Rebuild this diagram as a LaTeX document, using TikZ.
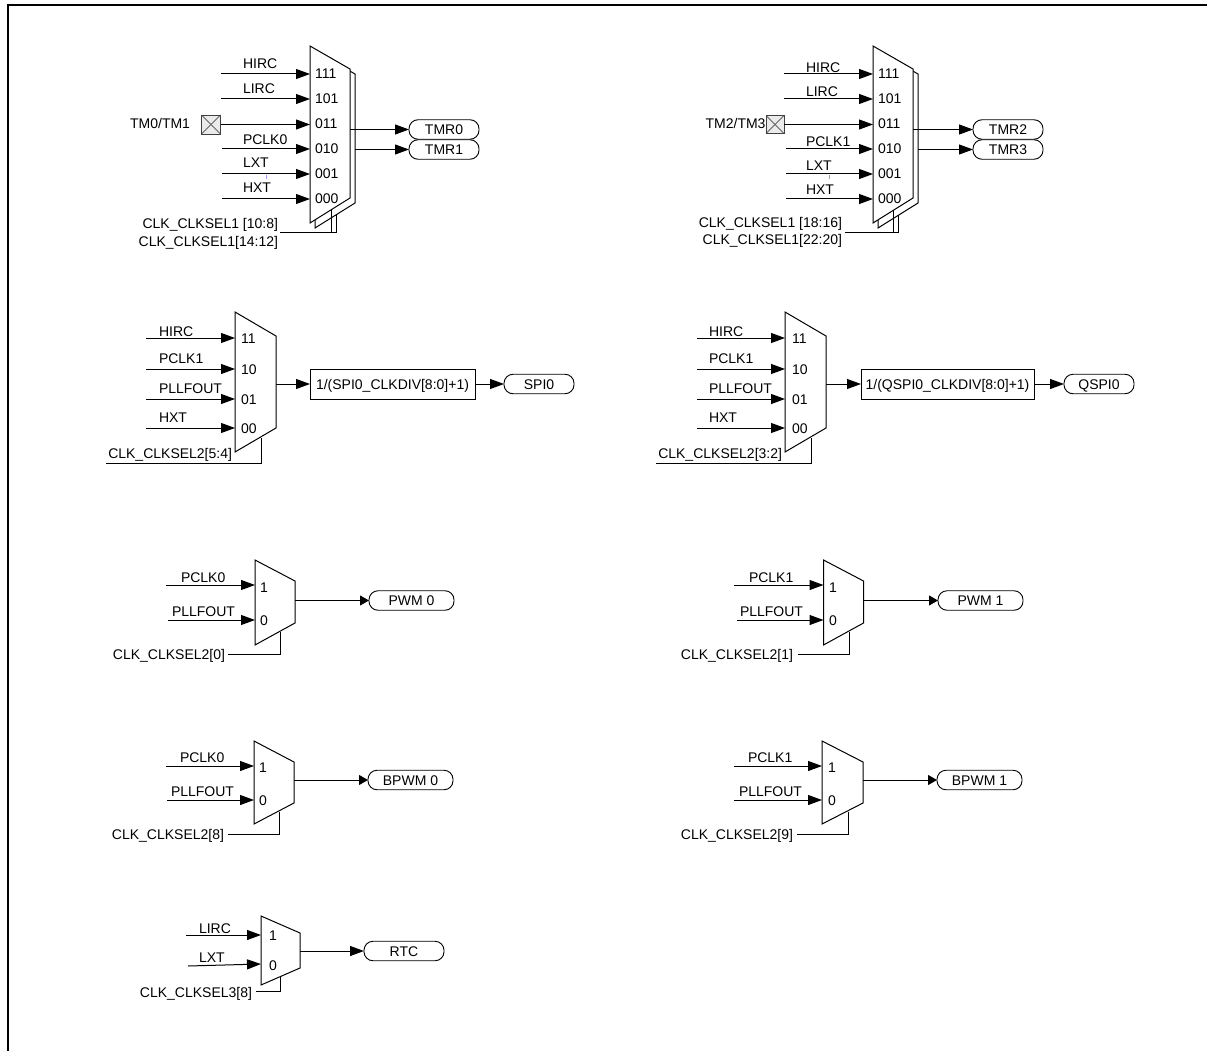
\documentclass[tikz,border=0pt]{standalone}
\usepackage{fontspec}
\setmainfont{Liberation Sans}
\usetikzlibrary{positioning, arrows.meta}

\begin{document}
\begin{tikzpicture}[
    x=1pt,
    y=-1pt,
    every node/.style={font=\fontsize{14}{15}\selectfont, inner sep=0pt, outer sep=0pt, text height=10pt, text depth=0pt},
    muxbody/.style={
        rectangle,
        minimum width=40pt
    },
    muxline/.style={
        line width=1pt,
        fill=white
    },
    pill/.style={
        rectangle,
        rounded corners=9pt,
        draw,
        line width=0.9pt,
        fill=white,
        minimum width=70pt,
        minimum height=19.5pt
    },
    divbox/.style={
        rectangle,
        draw,
        line width=0.9pt,
        minimum height=30pt
    },
    xbox/.style={
        rectangle,
        draw=black!75,
        line width=0.8pt,
        fill=black!8,
        minimum size=19pt,
        path picture={
            \draw[black!60] (path picture bounding box.north west) -- (path picture bounding box.south east);
            \draw[black!60] (path picture bounding box.south west) -- (path picture bounding box.north east);
        }
    },
    flecha/.style={
        -{Triangle[length=14pt, width=10pt]},
        line width=1pt
    },
    flechita/.style={
        -{Triangle[length=9pt, width=10pt]},
        line width=1pt
    },
    selline/.style={
        line width=0.9pt
    }
]
    \useasboundingbox (0,0) rectangle (1207,1051);
    \draw[line width=2pt] (8,1051) -- (8,5) -- (1207,5);

    % TM0/TM1
    \node[muxbody, minimum height=177pt] (mux0) at (330,134.5) {};
    \node[muxbody, minimum height=177pt] (back0) at (335,139.5) {};
    \draw[muxline] (back0.north west) -- ++(40,23) -- ++(0,129) -- (back0.south west) -- cycle;
    \draw[muxline] (mux0.north west) -- ++(40,23) -- ++(0,129) -- (mux0.south west) -- cycle;
    \node[xbox] (xtal0) at (211,124.5) {};
    \node[anchor=east] (tm0) at (190,124) {TM0/TM1};
    \node[anchor=west] (hirc0) at (243,64) {HIRC};
    \node[anchor=west] (lirc0) at (243,89) {LIRC};
    \node[anchor=west] (pclk0) at (243,140) {PCLK0};
    \node[anchor=west] (lxt0) at (243,163) {LXT};
    \node[anchor=west] (hxt0) at (243,188) {HXT};
    \node[anchor=west] (p0a) at (315,74) {111};
    \node[anchor=west] (p0b) at (315,99) {101};
    \node[anchor=west] (p0c) at (315,124) {011};
    \node[anchor=west] (p0d) at (315,149) {010};
    \node[anchor=west] (p0e) at (315,174) {001};
    \node[anchor=west] (p0f) at (315,199) {000};
    \node[pill, anchor=west] (tmr0) at (409,129.5) {TMR0};
    \node[pill, below=0.5pt of tmr0] (tmr1) {TMR1};
    \node[anchor=east] (sel0) at (278,224) {CLK\_CLKSEL1 [10:8]};
    \node[anchor=east] (sel1) at (278,242) {CLK\_CLKSEL1[14:12]};
    \coordinate (i0a) at (221,74);
    \coordinate (i0b) at (221,99);
    \coordinate (i0d) at (222,149);
    \coordinate (i0e) at (222,174);
    \coordinate (i0f) at (222,199);
    \coordinate (s0) at (280,232);

    \draw[flecha] (i0a) -- (i0a -| mux0.west);
    \draw[flecha] (i0b) -- (i0b -| mux0.west);
    \draw[flecha] (xtal0.east) -- (xtal0.east -| mux0.west);
    \draw[flecha] (i0d) -- (i0d -| mux0.west);
    \draw[flecha] (i0e) -- (i0e -| mux0.west);
    \draw[flecha] (i0f) -- (i0f -| mux0.west);
    \draw[flecha] (tmr0.west -| mux0.east) -- (tmr0.west);
    \draw[flecha] (tmr1.west -| back0.east) -- (tmr1.west);
    \draw[selline] (s0) -- (336,232) -- (336,215);
    \draw[selline] (s0) -- (331,232) -- (331,210.5);
    \draw[blue!40, line width=0.7pt] (266,175) -- (266,179);

    % TM2/TM3
    \node[muxbody, minimum height=177pt] (mux2) at (893,134.5) {};
    \node[muxbody, minimum height=177pt] (back2) at (898,139.5) {};
    \draw[muxline] (back2.north west) -- ++(40,23) -- ++(0,129) -- (back2.south west) -- cycle;
    \draw[muxline] (mux2.north west) -- ++(40,23) -- ++(0,129) -- (mux2.south west) -- cycle;
    \node[xbox, minimum size=18pt] (xtal2) at (775,124.5) {};
    \node[anchor=east] (tm2) at (765.5,124) {TM2/TM3};
    \node[anchor=west] (hirc2) at (806,68) {HIRC};
    \node[anchor=west] (lirc2) at (806,92) {LIRC};
    \node[anchor=west] (pclk2) at (806,142) {PCLK1};
    \node[anchor=west] (lxt2) at (806,166) {LXT};
    \node[anchor=west] (hxt2) at (806,190) {HXT};
    \node[anchor=west] (p2a) at (878,74) {111};
    \node[anchor=west] (p2b) at (878,99) {101};
    \node[anchor=west] (p2c) at (878,124) {011};
    \node[anchor=west] (p2d) at (878,149) {010};
    \node[anchor=west] (p2e) at (878,174) {001};
    \node[anchor=west] (p2f) at (878,199) {000};
    \node[pill, anchor=west] (tmr2) at (973,129.5) {TMR2};
    \node[pill, below=0.5pt of tmr2] (tmr3) {TMR3};
    \node[anchor=east] (sel2) at (842,223) {CLK\_CLKSEL1 [18:16]};
    \node[anchor=east] (sel3) at (842,239) {CLK\_CLKSEL1[22:20]};
    \coordinate (i2a) at (784,74);
    \coordinate (i2b) at (784,99);
    \coordinate (i2d) at (786,149);
    \coordinate (i2e) at (786,174);
    \coordinate (i2f) at (786,199);
    \coordinate (s2) at (845,232);

    \draw[flecha] (i2a) -- (i2a -| mux2.west);
    \draw[flecha] (i2b) -- (i2b -| mux2.west);
    \draw[flecha] (xtal2.east) -- (xtal2.east -| mux2.west);
    \draw[flecha] (i2d) -- (i2d -| mux2.west);
    \draw[flecha] (i2e) -- (i2e -| mux2.west);
    \draw[flecha] (i2f) -- (i2f -| mux2.west);
    \draw[flecha] (tmr2.west -| mux2.east) -- (tmr2.west);
    \draw[flecha] (tmr3.west -| back2.east) -- (tmr3.west);
    \draw[selline] (s2) -- (898,232) -- (898,215);
    \draw[selline] (s2) -- (893,232) -- (893,210.5);
    \draw[blue!40, line width=0.7pt] (829,175) -- (829,179);

    % SPI0
    \node[muxbody, minimum width=41pt, minimum height=140pt] (mux4) at (255.5,382) {};
    \draw[muxline] (mux4.north west) -- ++(41,24) -- ++(0,92) -- (mux4.south west) -- cycle;
    \node[anchor=west] (hirc4) at (159,331) {HIRC};
    \node[anchor=west] (pclk4) at (159,358) {PCLK1};
    \node[anchor=west] (pll4) at (159,388) {PLLFOUT};
    \node[anchor=west] (hxt4) at (159,417) {HXT};
    \node[anchor=west] (p4a) at (241,338) {11};
    \node[anchor=west] (p4b) at (241,369) {10};
    \node[anchor=west] (p4c) at (241,399) {01};
    \node[anchor=west] (p4d) at (241,428) {00};
    \node[divbox, minimum width=165pt, anchor=west] (div4) at (310,384) {1/(SPI0\_CLKDIV[8:0]+1)};
    \node[pill, right=29pt of div4] (spi0) {SPI0};
    \node[anchor=east] (sel4) at (232,453) {CLK\_CLKSEL2[5:4]};
    \coordinate (i4a) at (146,338);
    \coordinate (i4b) at (146,369);
    \coordinate (i4c) at (146,399);
    \coordinate (i4d) at (146,428);
    \coordinate (s4) at (106,463);

    \draw[flecha] (i4a) -- (i4a -| mux4.west);
    \draw[flecha] (i4b) -- (i4b -| mux4.west);
    \draw[flecha] (i4c) -- (i4c -| mux4.west);
    \draw[flecha] (i4d) -- (i4d -| mux4.west);
    \draw[flecha] (div4.west -| mux4.east) -- (div4.west);
    \draw[flecha] (div4) -- (spi0);
    \draw[selline] (s4) -- (261,463) -- (261,438);

    % QSPI0
    \node[muxbody, minimum width=41pt, minimum height=140pt] (mux5) at (805.5,382) {};
    \draw[muxline] (mux5.north west) -- ++(41,24) -- ++(0,92) -- (mux5.south west) -- cycle;
    \node[anchor=west] (hirc5) at (709,331) {HIRC};
    \node[anchor=west] (pclk5) at (709,358) {PCLK1};
    \node[anchor=west] (pll5) at (709,388) {PLLFOUT};
    \node[anchor=west] (hxt5) at (709,417) {HXT};
    \node[anchor=west] (p5a) at (792,338) {11};
    \node[anchor=west] (p5b) at (792,369) {10};
    \node[anchor=west] (p5c) at (792,399) {01};
    \node[anchor=west] (p5d) at (792,428) {00};
    \node[divbox, minimum width=173pt, anchor=west] (div5) at (861,384) {1/(QSPI0\_CLKDIV[8:0]+1)};
    \node[pill, right=30pt of div5] (qspi0) {QSPI0};
    \node[anchor=east] (sel5) at (782,453) {CLK\_CLKSEL2[3:2]};
    \coordinate (i5a) at (697,338);
    \coordinate (i5b) at (697,369);
    \coordinate (i5c) at (697,399);
    \coordinate (i5d) at (697,428);
    \coordinate (s5) at (656,463);

    \draw[flecha] (i5a) -- (i5a -| mux5.west);
    \draw[flecha] (i5b) -- (i5b -| mux5.west);
    \draw[flecha] (i5c) -- (i5c -| mux5.west);
    \draw[flecha] (i5d) -- (i5d -| mux5.west);
    \draw[flecha] (div5.west -| mux5.east) -- (div5.west);
    \draw[flecha] (div5) -- (qspi0);
    \draw[selline] (s5) -- (811,463) -- (811,438);

    % PWM 0
    \node[muxbody, minimum height=85pt] (mux6) at (275,602.5) {};
    \draw[muxline] (mux6.north west) -- ++(40,21) -- ++(0,42) -- (mux6.south west) -- cycle;
    \node[anchor=west] (pclk6) at (181,577) {PCLK0};
    \node[anchor=west] (pll6) at (172,611) {PLLFOUT};
    \node[anchor=west] (p6a) at (260,587) {1};
    \node[anchor=west] (p6b) at (260,620) {0};
    \node[pill, minimum width=85pt, anchor=west] (pwm0) at (369,600.5) {PWM 0};
    \node[anchor=east] (sel6) at (225,654) {CLK\_CLKSEL2[0]};
    \coordinate (i6a) at (166,585);
    \coordinate (i6b) at (168,620);
    \coordinate (s6) at (228,654);

    \draw[flecha] (i6a) -- (i6a -| mux6.west);
    \draw[flecha] (i6b) -- (i6b -| mux6.west);
    \draw[flechita] (pwm0.west -| mux6.east) -- (pwm0.west);
    \draw[selline] (s6) -- (280,654) -- (280,632);

    % PWM 1
    \node[muxbody, minimum height=85pt] (mux7) at (843.5,602.5) {};
    \draw[muxline] (mux7.north west) -- ++(40,21) -- ++(0,42) -- (mux7.south west) -- cycle;
    \node[anchor=west] (pclk7) at (749,577) {PCLK1};
    \node[anchor=west] (pll7) at (740,611) {PLLFOUT};
    \node[anchor=west] (p7a) at (829,587) {1};
    \node[anchor=west] (p7b) at (829,620) {0};
    \node[pill, minimum width=85pt, anchor=west] (pwm1) at (938,600.5) {PWM 1};
    \node[anchor=east] (sel7) at (793,654) {CLK\_CLKSEL2[1]};
    \coordinate (i7a) at (734,585);
    \coordinate (i7b) at (737,620);
    \coordinate (s7) at (798,654);

    \draw[flecha] (i7a) -- (i7a -| mux7.west);
    \draw[flecha] (i7b) -- (i7b -| mux7.west);
    \draw[flechita] (pwm1.west -| mux7.east) -- (pwm1.west);
    \draw[selline] (s7) -- (849,654) -- (849,632);

    % BPWM 0
    \node[muxbody, minimum height=83pt] (mux8) at (274,782.5) {};
    \draw[muxline] (mux8.north west) -- ++(40,21) -- ++(0,41) -- (mux8.south west) -- cycle;
    \node[anchor=west] (pclk8) at (180,757) {PCLK0};
    \node[anchor=west] (pll8) at (171,791) {PLLFOUT};
    \node[anchor=west] (p8a) at (259,767) {1};
    \node[anchor=west] (p8b) at (259,800) {0};
    \node[pill, minimum width=85pt, anchor=west] (bpwm0) at (368,780) {BPWM 0};
    \node[anchor=east] (sel8) at (224,834) {CLK\_CLKSEL2[8]};
    \coordinate (i8a) at (166,766);
    \coordinate (i8b) at (167,800);
    \coordinate (s8) at (228,834);

    \draw[flecha] (i8a) -- (i8a -| mux8.west);
    \draw[flecha] (i8b) -- (i8b -| mux8.west);
    \draw[flechita] (bpwm0.west -| mux8.east) -- (bpwm0.west);
    \draw[selline] (s8) -- (279,834) -- (279,812);

    % BPWM 1
    \node[muxbody, minimum width=41pt, minimum height=83pt] (mux9) at (842.5,782.5) {};
    \draw[muxline] (mux9.north west) -- ++(41,21) -- ++(0,41) -- (mux9.south west) -- cycle;
    \node[anchor=west] (pclk9) at (748,757) {PCLK1};
    \node[anchor=west] (pll9) at (739,791) {PLLFOUT};
    \node[anchor=west] (p9a) at (828,767) {1};
    \node[anchor=west] (p9b) at (828,800) {0};
    \node[pill, minimum width=85pt, anchor=west] (bpwm1) at (937,780) {BPWM 1};
    \node[anchor=east] (sel9) at (793,834) {CLK\_CLKSEL2[9]};
    \coordinate (i9a) at (734,766);
    \coordinate (i9b) at (734,800);
    \coordinate (s9) at (797,834);

    \draw[flecha] (i9a) -- (i9a -| mux9.west);
    \draw[flecha] (i9b) -- (i9b -| mux9.west);
    \draw[flechita] (bpwm1.west -| mux9.east) -- (bpwm1.west);
    \draw[selline] (s9) -- (848,834) -- (848,812);

    % RTC
    \node[muxbody, minimum width=39pt, minimum height=69pt] (mux10) at (280.5,950.5) {};
    \draw[muxline] (mux10.north west) -- ++(39,17) -- ++(0,35) -- (mux10.south west) -- cycle;
    \node[anchor=west] (lirc10) at (199,928) {LIRC};
    \node[anchor=west] (lxt10) at (199,957) {LXT};
    \node[anchor=west] (p10a) at (269,935) {1};
    \node[anchor=west] (p10b) at (269,965) {0};
    \node[pill, minimum width=80pt, anchor=west] (rtc) at (364,951) {RTC};
    \node[anchor=east] (sel10) at (252,992) {CLK\_CLKSEL3[8]};
    \coordinate (i10a) at (186,935);
    \coordinate (i10b) at (188,966);
    \coordinate (s10) at (256,991);

    \draw[flecha] (i10a) -- (i10a -| mux10.west);
    \draw[flecha] (i10b) -- (261,964);
    \draw[flecha] (rtc.west -| mux10.east) -- (rtc.west);
    \draw[selline] (s10) -- (280,991) -- (280,977);

\end{tikzpicture}
\end{document}
